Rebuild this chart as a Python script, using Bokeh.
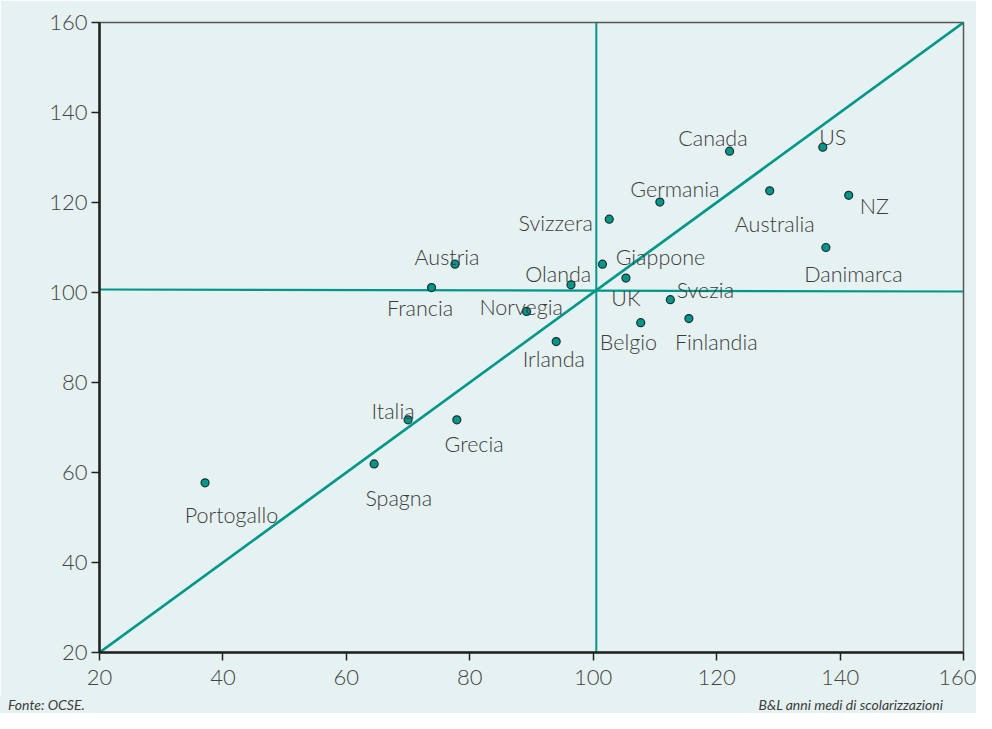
from bokeh.plotting import figure
from bokeh.layouts import column
from bokeh.models import ColumnDataSource, Range1d, FixedTicker, Div
from bokeh.core.properties import value
from bokeh.embed import file_html
from bokeh.resources import INLINE

# ---- data ----
countries = ["Austria", "Francia", "Olanda", "Norvegia", "Irlanda", "Giappone", "UK",
             "Belgio", "Svezia", "Finlandia", "Canada", "US", "Germania", "Australia",
             "NZ", "Svizzera", "Danimarca", "Italia", "Grecia", "Spagna", "Portogallo"]
x_vals = [77.6, 73.8, 96.4, 89.2, 94.0, 101.5, 105.3,
          107.7, 112.5, 115.5, 122.1, 137.2, 110.8, 128.6,
          141.4, 102.6, 137.7, 70.0, 77.9, 64.5, 37.1]
y_vals = [106.3, 101.1, 101.7, 95.8, 89.1, 106.3, 103.2,
          93.3, 98.4, 94.2, 131.4, 132.3, 120.1, 122.6,
          121.6, 116.3, 110.0, 71.7, 71.7, 61.9, 57.7]
ticks = [20, 40, 60, 80, 100, 120, 140, 160]
diag_x = [20, 160]
diag_y = [20, 160]
hline_x = [20, 160]
hline_y = [100.67, 100.22]
vline_x = [100.5, 100.5]
vline_y = [20, 160]
source_note = "Fonte: OCSE."
series_note = "B&L anni medi di scolarizzazioni"

# label offsets in screen pixels (dx, baseline dy; positive = down)
lab_dx = [-8, -11.4, -12.8, -5.4, -2.4, 58, 0,
          -12.3, 35, 27.4, -16.7, 10, 15, 5,
          25.6, -53.6, 27.5, -15, 17.3, 24.6, 26.5]
lab_dy = [-7.6, 20, -10.7, -4, 17, -6.7, 20,
          19, -10, 23, -13, -10.6, -13, 32.7,
          10.3, 4, 26, -9, 23.7, 34, 32]

BG = "#e6f2f2"
TEAL = "#00968a"
TXT = "#3c3c3c"
FONT = "Lato Light"

p = figure(width=976, height=696, output_backend="svg", toolbar_location=None,
           x_range=Range1d(20, 160), y_range=Range1d(20, 160),
           min_border_left=99, min_border_right=13, min_border_top=22, min_border_bottom=44)
p.background_fill_color = BG
p.border_fill_color = BG
p.outline_line_color = "#555555"
p.outline_line_width = 1.5
p.xgrid.visible = False
p.ygrid.visible = False

for ax in (p.xaxis[0], p.yaxis[0]):
    ax.ticker = FixedTicker(ticks=ticks)
    ax.minor_tick_line_color = None
    ax.major_tick_in = 0
    ax.major_tick_out = 8
    ax.major_tick_line_width = 1.5
    ax.major_tick_line_color = "#222222"
    ax.axis_line_width = 2.5
    ax.axis_line_color = "#222222"
    ax.major_label_text_font = FONT
    ax.major_label_text_font_size = "22px"
    ax.major_label_text_color = "#444444"
p.xaxis[0].major_label_standoff = 9
p.yaxis[0].major_label_standoff = 4

# reference lines
p.line(diag_x, diag_y, line_color=TEAL, line_width=2.7)
p.line(hline_x, hline_y, line_color=TEAL, line_width=2.2)
p.line(vline_x, vline_y, line_color=TEAL, line_width=2.0)

src = ColumnDataSource(dict(x=x_vals, y=y_vals, name=countries, dx=lab_dx, dy=lab_dy))
p.scatter("x", "y", source=src, size=8, fill_color=TEAL, line_color="#1f2f2f", line_width=1.2)
p.text("x", "y", text="name", source=src, x_offset="dx", y_offset="dy",
       text_align="center", text_baseline="alphabetic",
       text_font=value(FONT), text_font_size="21.5px", text_color=TXT)

# footer notes
footer_html = (
    '<div style="display:flex;justify-content:space-between;width:943px;'
    'padding-left:8px;font-family:Lato;font-style:italic;font-size:14px;'
    'line-height:17px;color:%s;">'
    '<span>%s</span><span>%s</span></div>' % (TXT, source_note, series_note.replace("&", "&amp;"))
)
foot = Div(text=footer_html, width=976, height=17,
           styles={"background-color": BG, "margin": "0"})

layout = column(p, foot, spacing=0)
open("out.html", "w").write(file_html(layout, INLINE))
